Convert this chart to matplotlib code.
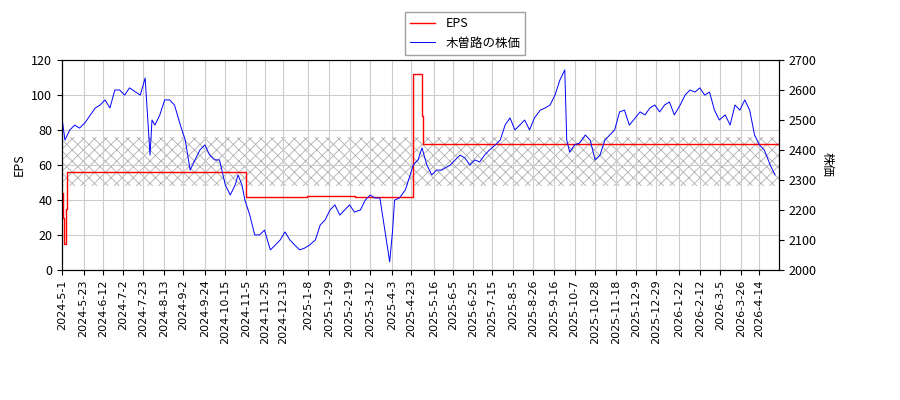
import numpy as np
import pandas as pd
import matplotlib
matplotlib.use("Agg")
import matplotlib.pyplot as plt

plt.rcParams['font.family'] = ['Noto Sans CJK JP', 'DejaVu Sans']
plt.rcParams['hatch.linewidth'] = 0.6

start = pd.Timestamp("2024-05-01")

# stock price: days since 2024-05-01, price
price_days = [0, 3, 8, 13, 18, 24, 29, 34, 39, 44, 49, 54, 59, 64, 69, 80, 85, 90, 92, 95, 100, 105, 110, 115,
              121, 126, 131, 136, 141, 146, 151, 156, 161, 167, 172, 177, 180, 184, 187, 192, 197, 202, 207, 213,
              218, 223, 228, 233, 238, 243, 248, 253, 259, 264, 269, 274, 279, 284, 289, 294, 299, 305, 310, 315,
              320, 325, 330, 333, 335, 338, 340, 345, 351, 356, 359, 364, 368, 373, 378, 383, 388, 397, 402, 407,
              412, 417, 422, 427, 432, 437, 443, 448, 453, 458, 463, 468, 473, 478, 483, 489, 494, 499, 504, 509,
              514, 516, 519, 524, 529, 535, 540, 545, 550, 555, 560, 565, 570, 575, 580, 586, 591, 596, 601, 606,
              611, 616, 621, 626, 632, 637, 642, 647, 652, 657, 662, 667, 672, 678, 683, 688, 693, 698, 703, 708,
              713, 718, 724, 729, 733]
prices = [2507, 2433, 2467, 2483, 2473, 2493, 2517, 2540, 2550, 2567, 2540, 2600, 2600, 2583, 2607, 2583, 2640,
          2383, 2500, 2483, 2517, 2567, 2567, 2550, 2483, 2433, 2333, 2367, 2400, 2417, 2383, 2367, 2367, 2283,
          2250, 2283, 2317, 2283, 2233, 2183, 2117, 2117, 2133, 2067, 2083, 2100, 2127, 2100, 2083, 2067, 2073,
          2083, 2100, 2150, 2167, 2200, 2217, 2183, 2200, 2217, 2193, 2200, 2233, 2250, 2240, 2240, 2133, 2067,
          2027, 2133, 2233, 2240, 2267, 2317, 2350, 2367, 2407, 2350, 2317, 2333, 2333, 2350, 2367, 2383, 2373,
          2350, 2367, 2360, 2383, 2400, 2417, 2433, 2483, 2507, 2467, 2483, 2500, 2467, 2507, 2533, 2540, 2550,
          2583, 2633, 2667, 2433, 2393, 2417, 2423, 2450, 2433, 2367, 2383, 2433, 2450, 2467, 2527, 2533, 2483,
          2507, 2527, 2517, 2540, 2550, 2527, 2550, 2560, 2517, 2550, 2583, 2600, 2593, 2607, 2583, 2593, 2533,
          2500, 2517, 2483, 2550, 2533, 2567, 2533, 2450, 2417, 2400, 2350, 2317]
price_days = price_days[:len(prices)]

# EPS steps: days since 2024-05-01, value
eps_days = [0, 1, 2, 4, 5, 188, 250, 300, 359, 368, 369, 733]
eps_vals = [44, 30, 15, 35, 56, 42, 42.5, 42, 112, 88, 72, 72]

band_low, band_high = 48, 76

tick_labels = ["2024-5-1", "2024-5-23", "2024-6-12", "2024-7-2", "2024-7-23", "2024-8-13", "2024-9-2",
               "2024-9-24", "2024-10-15", "2024-11-5", "2024-11-25", "2024-12-13", "2025-1-8", "2025-1-29",
               "2025-2-19", "2025-3-12", "2025-4-3", "2025-4-23", "2025-5-16", "2025-6-5", "2025-6-25",
               "2025-7-15", "2025-8-5", "2025-8-26", "2025-9-16", "2025-10-7", "2025-10-28", "2025-11-18",
               "2025-12-9", "2025-12-29", "2026-1-22", "2026-2-12", "2026-3-5", "2026-3-26", "2026-4-14"]

pdates = start + pd.to_timedelta(price_days, unit="D")
edates = start + pd.to_timedelta(eps_days, unit="D")
end = start + pd.Timedelta(days=733)

fig = plt.figure(figsize=(9, 4), dpi=100)
ax = fig.add_axes([62/900, 130/400, 717/900, 210/400])
ax2 = ax.twinx()

ax.fill_between([start, end], band_low, band_high, facecolor='none', edgecolor='#b0b0b0',
                hatch='xxx', linewidth=0, zorder=1)
ax.plot(edates, eps_vals, color='red', lw=1, drawstyle='steps-post', label='EPS', zorder=3)
ax2.plot(pdates, prices, color='blue', lw=0.7, label='木曽路の株価')

ax.set_ylim(0, 120)
ax.set_yticks(range(0, 121, 20))
ax2.set_ylim(2000, 2700)
ax.set_xlim(start, end)
ax.set_xticks(pd.to_datetime(tick_labels))
ax.set_xticklabels(tick_labels, rotation=90, fontsize=8, family='DejaVu Sans')
ax.tick_params(axis='y', labelsize=9)
ax2.tick_params(axis='y', labelsize=9)
ax.grid(True, color='#cccccc', lw=0.8)
ax.set_ylabel("EPS", fontsize=9)
ax2.set_ylabel("株価", fontsize=9, rotation=270, labelpad=12)

h1, l1 = ax.get_legend_handles_labels()
h2, l2 = ax2.get_legend_handles_labels()
fig.legend(h1 + h2, l1 + l2, loc='upper center', bbox_to_anchor=(0.517, 0.985), fontsize=9,
           fancybox=False, edgecolor='#888888')

fig.savefig("out.png", dpi=100)
